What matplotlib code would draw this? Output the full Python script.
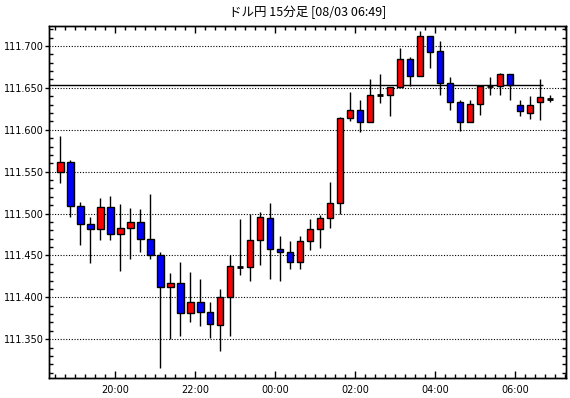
"""
ドル円 15分足チャート (ローソク足)
"""

import pandas as pd
import matplotlib
matplotlib.use("Agg")
import matplotlib.pyplot as plt
import matplotlib.dates as mdates
from matplotlib.ticker import MultipleLocator, FormatStrFormatter

TITLE = "ドル円 15分足 [08/03 06:49]"
START = "2018-08-02 18:30"
REF_PRICE = 111.653

opens = [111.550, 111.561, 111.509, 111.487, 111.482, 111.508, 111.475, 111.483, 111.490, 111.470,
         111.450, 111.412, 111.417, 111.381, 111.395, 111.382, 111.367, 111.400, 111.436, 111.436,
         111.469, 111.495, 111.458, 111.454, 111.442, 111.467, 111.481, 111.495, 111.513, 111.614,
         111.623, 111.609, 111.641, 111.641, 111.651, 111.685, 111.664, 111.712, 111.694, 111.656,
         111.633, 111.609, 111.631, 111.652, 111.652, 111.666, 111.630, 111.620, 111.633, 111.637]
highs = [111.593, 111.564, 111.514, 111.496, 111.518, 111.521, 111.511, 111.507, 111.506, 111.523,
         111.454, 111.429, 111.442, 111.430, 111.422, 111.394, 111.410, 111.450, 111.494, 111.500,
         111.502, 111.513, 111.473, 111.467, 111.473, 111.493, 111.498, 111.538, 111.615, 111.645,
         111.636, 111.660, 111.667, 111.651, 111.697, 111.687, 111.718, 111.712, 111.706, 111.663,
         111.635, 111.635, 111.652, 111.663, 111.668, 111.666, 111.635, 111.640, 111.660, 111.642]
lows = [111.537, 111.496, 111.463, 111.441, 111.469, 111.469, 111.432, 111.446, 111.454, 111.446,
        111.316, 111.350, 111.354, 111.370, 111.366, 111.352, 111.336, 111.354, 111.427, 111.420,
        111.439, 111.422, 111.419, 111.434, 111.434, 111.456, 111.459, 111.483, 111.500, 111.611,
        111.597, 111.609, 111.632, 111.617, 111.651, 111.652, 111.664, 111.674, 111.641, 111.624,
        111.598, 111.609, 111.618, 111.641, 111.642, 111.636, 111.617, 111.613, 111.612, 111.633]
closes = [111.561, 111.509, 111.487, 111.482, 111.508, 111.475, 111.483, 111.490, 111.470, 111.450,
          111.412, 111.417, 111.381, 111.395, 111.382, 111.368, 111.400, 111.437, 111.436, 111.469,
          111.496, 111.458, 111.454, 111.442, 111.467, 111.481, 111.495, 111.513, 111.614, 111.623,
          111.609, 111.641, 111.641, 111.651, 111.685, 111.664, 111.712, 111.693, 111.656, 111.633,
          111.609, 111.631, 111.652, 111.652, 111.666, 111.653, 111.622, 111.629, 111.639, 111.637]

df = pd.DataFrame({"open": opens, "high": highs, "low": lows, "close": closes})
df["time"] = pd.date_range(START, periods=len(df), freq="15min")
# Kerze in der Mitte des Intervalls zeichnen
df["x"] = mdates.date2num(df["time"] + pd.Timedelta(minutes=7.5))

plt.rcParams["font.family"] = ["DejaVu Sans"]

fig = plt.figure(figsize=(5.7, 3.98), dpi=100)
ax = fig.add_axes([0.0868, 0.0508, 0.9057, 0.8832])

width = 0.65 * 15 / 1440

for _, r in df.iterrows():
    ax.vlines(r["x"], r["low"], r["high"], color="black", linewidth=1, zorder=3)
    if r["close"] == r["open"]:
        ax.hlines(r["close"], r["x"] - width / 2, r["x"] + width / 2,
                  color="black", linewidth=2, zorder=4)
        continue
    color = "#ff0000" if r["close"] > r["open"] else "#0000ff"
    ax.bar(r["x"], abs(r["close"] - r["open"]), bottom=min(r["open"], r["close"]),
           width=width, color=color, edgecolor="black", linewidth=1, zorder=4)

# Referenzlinie
line_end = mdates.date2num(pd.Timestamp("2018-08-03 06:42"))
xmin = mdates.date2num(pd.Timestamp("2018-08-02 18:21"))
xmax = mdates.date2num(pd.Timestamp("2018-08-03 07:16:30"))
ax.hlines(REF_PRICE, xmin, line_end, color="black", linewidth=1, zorder=2)

ax.set_xlim(xmin, xmax)
ax.set_ylim(111.304, 111.7235)

ax.yaxis.set_major_locator(MultipleLocator(0.05))
ax.yaxis.set_minor_locator(MultipleLocator(0.01))
ax.yaxis.set_major_formatter(FormatStrFormatter("%.3f"))
ax.xaxis.set_major_locator(mdates.HourLocator(byhour=range(0, 24, 2)))
ax.xaxis.set_minor_locator(mdates.MinuteLocator(byminute=[0, 15, 30, 45]))
ax.xaxis.set_major_formatter(mdates.DateFormatter("%H:%M"))

ax.grid(True, axis="y", which="major", color="black", linestyle=(0, (1, 1.5)), linewidth=0.8)

ax.tick_params(axis="y", which="major", direction="out", length=3, width=1, labelsize=7, pad=1)
ax.tick_params(axis="y", which="minor", direction="in", length=3, width=1)
ax.tick_params(axis="x", which="major", direction="in", length=5, width=1, labelsize=7,
               pad=5, top=True)
ax.tick_params(axis="x", which="minor", direction="in", length=3, width=1, top=True)

# rechte Achse nur fuer Ticks
ax_r = ax.twinx()
ax_r.set_ylim(ax.get_ylim())
ax_r.yaxis.set_major_locator(MultipleLocator(0.05))
ax_r.yaxis.set_minor_locator(MultipleLocator(0.01))
ax_r.tick_params(axis="y", which="both", direction="in", length=3, width=1, labelright=False)

for a in (ax, ax_r):
    for s in a.spines.values():
        s.set_linewidth(1.0)

fig.text(0.5396, 0.970, TITLE, ha="center", va="center", fontsize=9,
         family=["Noto Sans CJK JP", "DejaVu Sans"])

fig.savefig("out.png", dpi=100)
